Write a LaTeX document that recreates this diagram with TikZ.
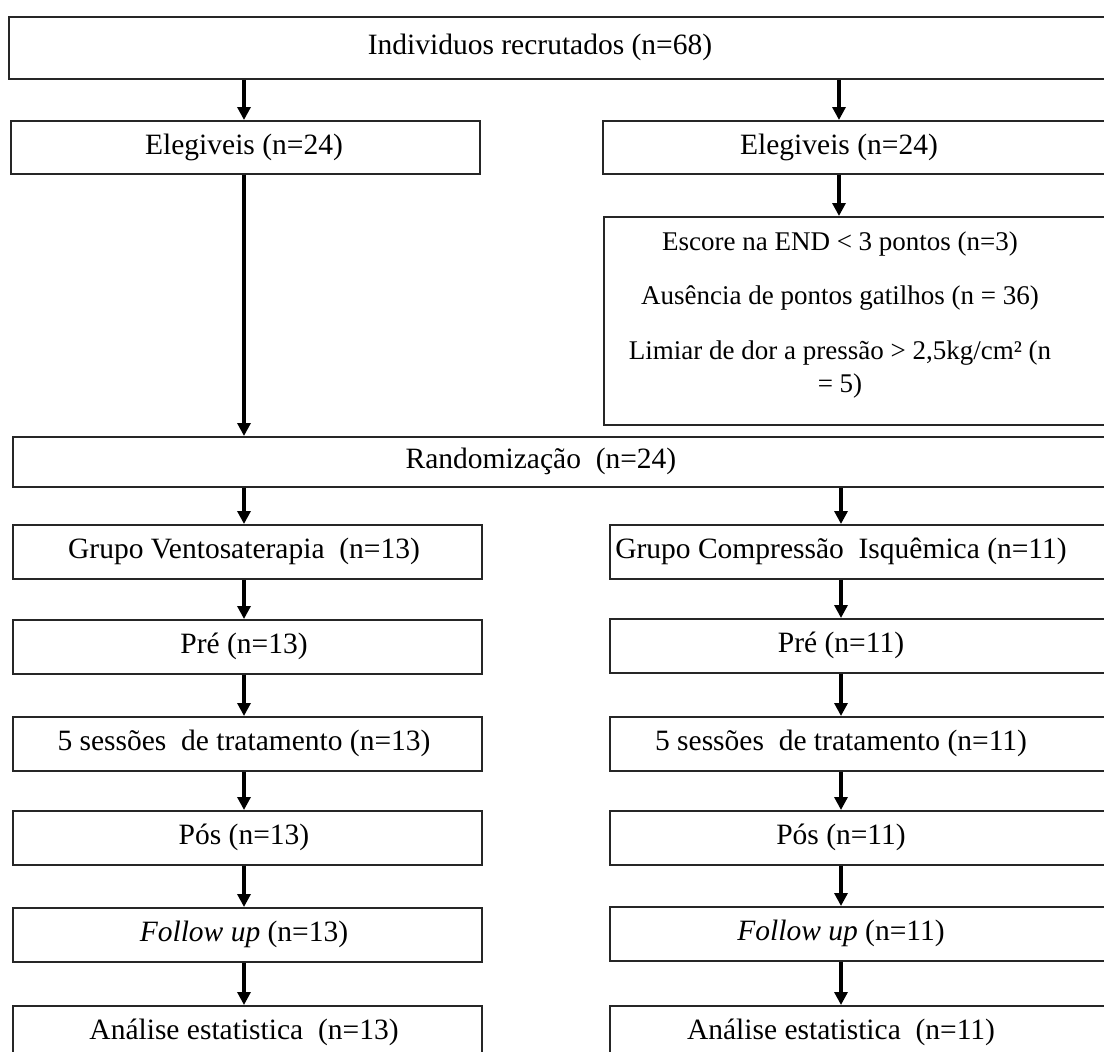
\documentclass[tikz,border=0pt]{standalone}
\usepackage{fontspec}
\setmainfont{Liberation Serif}
\usetikzlibrary{arrows.meta}
\begin{document}
\begin{tikzpicture}[x=1pt,y=-1pt,
  box/.style={draw=black!85, line width=1.7pt, anchor=north west, inner sep=0pt, minimum height=54pt},
  lbox/.style={box, minimum width=469pt},
  rbox/.style={box, minimum width=520pt},
  txt/.style={inner sep=0pt, font=\fontsize{29.5}{34}\selectfont},
  arr/.style={draw=black, line width=3.2pt, -{Triangle[length=13pt,width=13pt]}}]
\useasboundingbox (0,0) rectangle (1104,1052);
\clip (0,0) rectangle (1104,1052);
\fill[white] (0,0) rectangle (1104,1052);
% boxes
\node[box, minimum width=1110pt, minimum height=62pt] (top) at (8,16) {};
\node[lbox, minimum height=53pt] (EL) at (10,120) {};
\node[rbox, minimum height=53pt] (ER) at (602,120) {};
\node[rbox, minimum height=208pt] (EX) at (603,216) {};
\node[box, minimum width=1110pt, minimum height=50pt] (RD) at (12,436) {};
\node[lbox] (GV) at (12,524) {};
\node[rbox] (GC) at (609,524) {};
\node[lbox] (PL) at (12,619) {};
\node[rbox] (PR) at (609,618) {};
\node[lbox] (SL) at (12,716) {};
\node[rbox] (SR) at (609,716) {};
\node[lbox] (OL) at (12,810) {};
\node[rbox] (OR) at (609,810) {};
\node[lbox] (FL) at (12,907) {};
\node[rbox] (FR) at (609,906) {};
\node[lbox, minimum height=60pt] (AL) at (12,1005) {};
\node[rbox, minimum height=60pt] (AR) at (609,1005) {};
% texts
\node[txt] (topT) at (540,47) {Individuos recrutados (n=68)};
\node[txt] (ELt) at (244,147) {Elegiveis (n=24)};
\node[txt] (ERt) at (839,147) {Elegiveis (n=24)};
\node[txt, align=center, font=\fontsize{27}{33}\selectfont] (EXt) at (840,315) {Escore na END < 3 pontos (n=3)\\[21.5pt]Ausência de pontos gatilhos (n = 36)\\[21.5pt]Limiar de dor a pressão > 2,5kg/cm² (n\\= 5)};
\node[txt] (RDt) at (541,461) {Randomização~ (n=24)};
\node[txt] (GVt) at (244,551) {Grupo Ventosaterapia~ (n=13)};
\node[txt] (GCt) at (841,551) {Grupo Compressão~ Isquêmica (n=11)};
\node[txt] (PLt) at (244,646) {Pré (n=13)};
\node[txt] (PRt) at (841,645) {Pré (n=11)};
\node[txt] (SLt) at (244,743) {5 sessões~ de tratamento (n=13)};
\node[txt] (SRt) at (841,743) {5 sessões~ de tratamento (n=11)};
\node[txt] (OLt) at (244,837) {Pós (n=13)};
\node[txt] (ORt) at (841,837) {Pós (n=11)};
\node[txt] (FLt) at (244,934) {\textit{Follow up} (n=13)};
\node[txt] (FRt) at (841,933) {\textit{Follow up} (n=11)};
\node[txt] (ALt) at (244,1032) {Análise estatistica~ (n=13)};
\node[txt] (ARt) at (841,1032) {Análise estatistica~ (n=11)};
% connectors
\draw[arr] (top.south -| ELt) -- (EL.north -| ELt);
\draw[arr] (top.south -| ERt) -- (ER.north -| ERt);
\draw[arr] (EL.south -| ELt) -- (RD.north -| ELt);
\draw[arr] (ER.south -| ERt) -- (EX.north -| ERt);
\draw[arr] (RD.south -| GVt) -- (GV.north -| GVt);
\draw[arr] (RD.south -| GCt) -- (GC.north -| GCt);
\draw[arr] (GV.south -| GVt) -- (PL.north -| GVt);
\draw[arr] (GC.south -| GCt) -- (PR.north -| GCt);
\draw[arr] (PL.south -| PLt) -- (SL.north -| PLt);
\draw[arr] (PR.south -| PRt) -- (SR.north -| PRt);
\draw[arr] (SL.south -| SLt) -- (OL.north -| SLt);
\draw[arr] (SR.south -| SRt) -- (OR.north -| SRt);
\draw[arr] (OL.south -| OLt) -- (FL.north -| OLt);
\draw[arr] (OR.south -| ORt) -- (FR.north -| ORt);
\draw[arr] (FL.south -| FLt) -- (AL.north -| FLt);
\draw[arr] (FR.south -| FRt) -- (AR.north -| FRt);
\end{tikzpicture}
\end{document}
